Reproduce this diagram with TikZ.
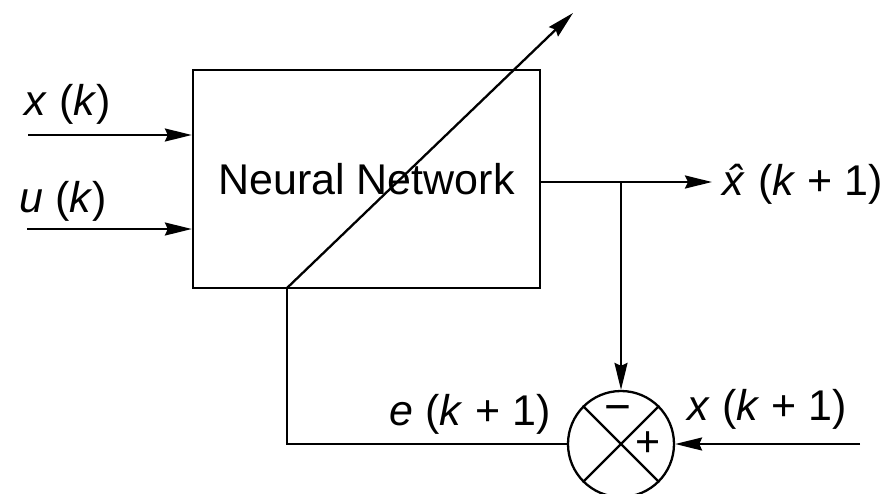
\documentclass[tikz,border=0pt]{standalone}
\usepackage{fontspec}
\setmainfont{Liberation Sans}
\usepackage{tikz}
\usetikzlibrary{arrows.meta, positioning}
\tikzset{
  block/.style={rectangle, draw, minimum width=347pt, minimum height=218pt, inner sep=0pt},
  junction/.style={circle, draw, minimum size=106pt, inner sep=0pt},
  sign/.style={inner sep=0pt},
  line/.style={-{Stealth[length=27pt, width=13pt, inset=3pt]}}
}

\begin{document}
\begin{tikzpicture}[x=1pt, y=-1pt, line width=2.3pt, font=\fontsize{43}{50}\selectfont]
    \useasboundingbox (0,0) rectangle (883,493);
    \node[block] (nn) at (366.5,179) {Neural Network};
    \node[junction] (sum) at (621,444) {};
    \draw (sum.north west) -- (sum.south east);
    \draw (sum.north east) -- (sum.south west);
    \node[sign, font=\fontsize{46}{50}\selectfont] (mi) at (618,414) {−};
    \node[sign] (pl) at (648,444) {+};
    % inputs
    \coordinate (xin) at (28,135);
    \coordinate (uin) at (27,229);
    \node[anchor=base west] (xk) at (20,115) {\textit{x} (\textit{k})};
    \node[anchor=base west] (uk) at (15,212) {\textit{u} (\textit{k})};
    \draw[line] (xin) -- (xin -| nn.west);
    \draw[line] (uin) -- (uin -| nn.west);
    % output and error
    \coordinate (out) at (712,182);
    \coordinate (br) at (621,182);
    \node[anchor=base west] (xhat) at (718,195) {\textit{\^x}\kern7pt(\textit{k} + 1)};
    \draw[line] (nn.east |- out) -- (out);
    \draw[line] (br) -- (sum.north);
    \coordinate (xr) at (860,444);
    \node[anchor=base west] (xnext) at (683,420) {\textit{x} (\textit{k} + 1)};
    \draw[line] (xr) -- (sum.east);
    \node[anchor=base east] (ek) at (555,425) {\textit{e} (\textit{k} + 1)};
    \coordinate (fb) at (287,288);
    \coordinate (tip) at (573,13);
    \draw (sum.west) -| (fb);
    \draw[line] (fb) -- (tip);
  \end{tikzpicture}
\end{document}
